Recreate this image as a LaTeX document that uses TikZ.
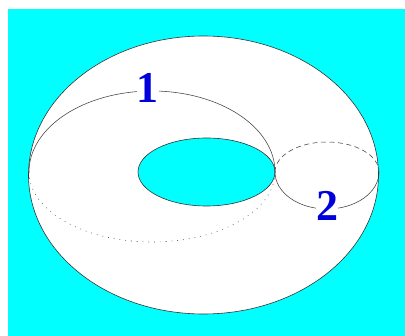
\documentclass[tikz,border=0pt]{standalone}
\usepackage{fontspec}
\setmainfont{Liberation Serif}
\definecolor{aquabg}{RGB}{0,255,255}
\definecolor{labelblue}{RGB}{0,0,220}
\tikzset{
  curve/.style={draw=black!80,line width=0.6pt},
  loopline/.style={draw=black!75,line width=0.55pt},
  numlabel/.style={fill=white,inner sep=1pt,text=labelblue,font=\fontsize{44}{44}\selectfont\bfseries}
}
\begin{document}
\begin{tikzpicture}[x=1pt,y=-1pt]
\useasboundingbox (0,0) rectangle (405,336);
\fill[white] (0,0) rectangle (405,336);
\fill[aquabg] (8,9) rectangle (405,336);
\filldraw[fill=white,curve] (203.5,175) ellipse [x radius=175,y radius=139];
\filldraw[fill=aquabg,curve] (206.5,172) ellipse [x radius=68.5,y radius=34];
% loop 1
\draw[loopline] (29,172) arc [start angle=180,end angle=360,x radius=123,y radius=81];
\draw[draw=black!70,line width=0.6pt,dash pattern=on 0.8pt off 5pt] (29,172) arc [start angle=180,end angle=0,x radius=123,y radius=70];
% loop 2
\draw[draw=black!75,line width=0.55pt,dash pattern=on 5pt off 3.5pt] (275,172) arc [start angle=180,end angle=360,x radius=52,y radius=30];
\draw[loopline] (275,172) arc [start angle=180,end angle=0,x radius=52,y radius=37];
\node[numlabel,inner xsep=0pt] (one) at (147.5,88) {1};
\node[numlabel,inner xsep=0pt] (two) at (327,205.5) {2};
\end{tikzpicture}
\end{document}
